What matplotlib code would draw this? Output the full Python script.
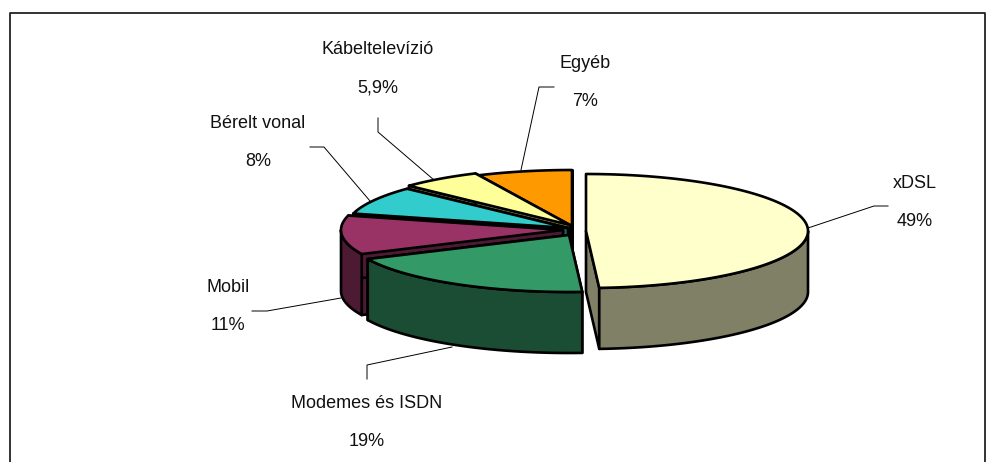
import numpy as np
import matplotlib
matplotlib.use('Agg')
import matplotlib.pyplot as plt

plt.rcParams['font.family'] = ['Liberation Sans', 'DejaVu Sans']

labels = ['xDSL', 'Modemes és ISDN', 'Mobil', 'Bérelt vonal', 'Kábeltelevízió', 'Egyéb']
pct_text = ['49%', '19%', '11%', '8%', '5,9%', '7%']
values = [49, 19, 11, 8, 5.9, 7]
top_colors = ['#FFFFCC', '#339966', '#993366', '#33CCCC', '#FFFF99', '#FF9900']
side_colors = ['#808066', '#1A4D33', '#4D1A33', '#1A6666', '#80804D', '#804D00']

# layout in pixels, y going down
centers = [(586, 231), (569, 235), (563, 230), (568, 228), (570, 225), (572, 227)]
rx, ry, depth = 222, 57, 61
# label x, name y, percent y
label_pos = [(915, 184, 222), (367, 404, 442), (228, 288, 325), (258, 124, 162), (378, 49, 88), (585, 64, 102)]
leaders = [[(808, 228), (874, 206), (888, 206)],
           [(452, 347), (367, 365), (367, 379)],
           [(341, 298), (267, 311), (252, 311)],
           [(370, 201), (324, 147), (310, 147)],
           [(434, 180), (378, 132), (378, 118)],
           [(521, 170), (539, 87), (554, 87)]]


def rim(cx, cy, a0, a1):
    # angles clockwise from 12 o'clock, in degrees
    t = np.radians(np.linspace(a0, a1, 120))
    return cx + rx * np.sin(t), cy - ry * np.cos(t)


def fill(ax, x, y, color, z):
    ax.fill(x, y, facecolor=color, edgecolor='black', linewidth=1.9, joinstyle='round', zorder=z)


fig = plt.figure(figsize=(9.95, 4.62), dpi=100)
ax = fig.add_axes([0, 0, 1, 1])
ax.set_xlim(0, 995)
ax.set_ylim(462, 0)
ax.axis('off')

# chart frame, cut off by the bottom of the picture
ax.plot([9.5, 9.5, 985, 985], [462, 12.5, 12.5, 462], color='#222222', lw=1.3, zorder=1)

for xy in leaders:
    ax.plot(*zip(*xy), color='black', lw=0.7, zorder=2)

angles = np.cumsum([0] + values) / sum(values) * 360

# back slices first, xDSL last
z = 3
for i in [5, 4, 3, 2, 1, 0]:
    cx, cy = centers[i]
    a0, a1 = angles[i], angles[i + 1]
    for a in (a0, a1):
        xr, yr = rim(cx, cy, a, a)
        fill(ax, [cx, xr[0], xr[0], cx], [cy, yr[0], yr[0] + depth, cy + depth], side_colors[i], z)
    # outer wall only on the front half of the ellipse
    lo, hi = max(a0, 90), min(a1, 270)
    if lo < hi:
        xr, yr = rim(cx, cy, lo, hi)
        fill(ax, np.r_[xr, xr[::-1]], np.r_[yr, yr[::-1] + depth], side_colors[i], z)
    xr, yr = rim(cx, cy, a0, a1)
    fill(ax, np.r_[cx, xr], np.r_[cy, yr], top_colors[i], z + 0.5)
    z += 1

for (x, y_name, y_pct), name, pct in zip(label_pos, labels, pct_text):
    ax.text(x, y_name, name, ha='center', va='center', fontsize=13, color='#111111', zorder=20)
    ax.text(x, y_pct, pct, ha='center', va='center', fontsize=13, color='#111111', zorder=20)

fig.savefig('out.png', dpi=100)
